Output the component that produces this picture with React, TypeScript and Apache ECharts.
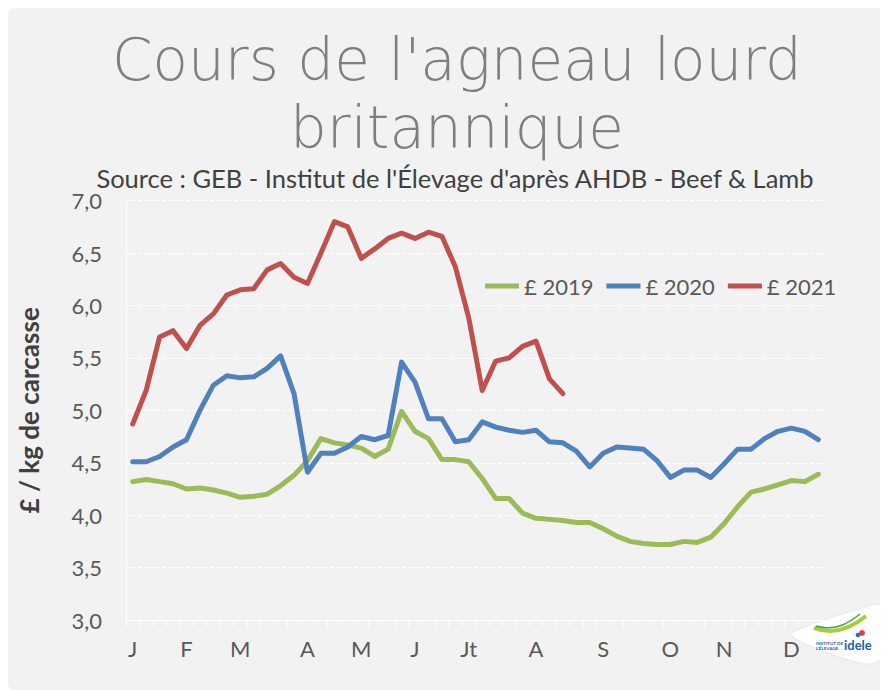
import React, { useEffect, useRef } from "react";
import * as echarts from "echarts";

// ---- data ----
const MONTH_LABELS = ["J", "F", "M", "A", "M", "J", "Jt", "A", "S", "O", "N", "D"];
const MONTH_START_WEEK = [0, 4, 8, 13, 17, 21, 25, 30, 35, 40, 44, 49];
const WEEK_COUNT = 52;
const SERIES_NAMES = ["£ 2019", "£ 2020", "£ 2021"];
const SERIES_COLORS = ["#9bbb59", "#4f81bd", "#c0504d"];

const PRICES_2019 = [
  4.32, 4.34, 4.32, 4.3, 4.25, 4.26, 4.24, 4.21, 4.17, 4.18, 4.2, 4.28,
  4.38, 4.52, 4.73, 4.69, 4.67, 4.64, 4.56, 4.63, 4.99, 4.8, 4.73, 4.53, 4.53, 4.51,
  4.35, 4.16, 4.16, 4.02, 3.97, 3.96, 3.95, 3.93, 3.93, 3.87, 3.8, 3.75, 3.73,
  3.72, 3.72, 3.75, 3.74, 3.79, 3.92, 4.08, 4.22, 4.25, 4.29, 4.33, 4.32, 4.39,
];
const PRICES_2020 = [
  4.51, 4.51, 4.56, 4.65, 4.72, 5.0, 5.24, 5.33, 5.31, 5.32, 5.4, 5.52, 5.16,
  4.41, 4.59, 4.59, 4.65, 4.75, 4.72, 4.76, 5.46, 5.27, 4.92, 4.92, 4.7, 4.72,
  4.89, 4.84, 4.81, 4.79, 4.81, 4.7, 4.69, 4.61, 4.46, 4.59, 4.65, 4.64, 4.63,
  4.52, 4.36, 4.43, 4.43, 4.36, 4.49, 4.63, 4.63, 4.73, 4.8, 4.83, 4.8, 4.72,
];
const PRICES_2021 = [
  4.87, 5.19, 5.7, 5.76, 5.59, 5.81, 5.92, 6.1, 6.15, 6.16, 6.34, 6.4, 6.27,
  6.21, 6.5, 6.8, 6.75, 6.45, 6.54, 6.64, 6.69, 6.64, 6.7, 6.66, 6.37, 5.88,
  5.19, 5.47, 5.5, 5.61, 5.66, 5.3, 5.16,
];
const Y_MIN = 3;
const Y_MAX = 7;
const Y_STEP = 0.5;

const TITLE_LINES = ["Cours de l'agneau lourd", "britannique"];
const SUBTITLE = "Source : GEB - Institut de l'Élevage d'après AHDB - Beef & Lamb";
const Y_NAME = "£ / kg de carcasse";

const FONT = "Lato, 'Open Sans', sans-serif";
const TITLE_FONT = "'DejaVu Sans', Lato, sans-serif";

const LEAF_PATH =
  "M0,28 C10,22 60,6 82,0 C90,-2 94,4 94,10 L94,44 C94,54 80,60 70,58 C50,54 15,40 4,34 C-1,31 -1,29 0,28 Z";

export default function App() {
  const ref = useRef<HTMLDivElement>(null);

  useEffect(() => {
    const el = ref.current;
    if (!el) return;
    echarts.graphic.registerShape("ideleLeaf", echarts.graphic.extendPath(LEAF_PATH, {}));
    const chart = echarts.init(el, null, { renderer: "svg" });

    const weeks = Array.from({ length: WEEK_COUNT }, (_, i) => "S" + (i + 1));
    const monthAt = (i: number) => {
      const k = MONTH_START_WEEK.indexOf(i);
      return k >= 0 ? MONTH_LABELS[k] : "";
    };
    const allData = [PRICES_2019, PRICES_2020, PRICES_2021];

    chart.setOption({
      animation: false,
      backgroundColor: "transparent",
      textStyle: { fontFamily: FONT },
      grid: { left: 110, top: 192.7, width: 707, height: 419.3, containLabel: false },
      legend: {
        left: 472,
        top: 262,
        itemGap: 13,
        itemWidth: 34,
        itemHeight: 5,
        icon: "rect",
        textStyle: { fontSize: 22, color: "#595959", fontFamily: FONT },
        data: SERIES_NAMES,
      },
      xAxis: {
        type: "category",
        data: weeks,
        boundaryGap: true,
        axisLine: { show: true, lineStyle: { color: "#ffffff", width: 1 } },
        axisTick: { show: true, interval: 0, length: 7, lineStyle: { color: "#ffffff" } },
        axisLabel: {
          interval: 0,
          margin: 17,
          fontSize: 22,
          color: "#595959",
          fontFamily: FONT,
          formatter: (_v: string, idx: number) => monthAt(idx),
        },
        splitLine: { show: false },
      },
      yAxis: {
        type: "value",
        min: Y_MIN,
        max: Y_MAX,
        interval: Y_STEP,
        name: Y_NAME,
        nameLocation: "middle",
        nameGap: 84,
        nameRotate: 90,
        nameTextStyle: { fontSize: 26, fontWeight: "bold", color: "#404040", fontFamily: FONT },
        axisLine: { show: true, lineStyle: { color: "#ffffff", width: 1 } },
        axisTick: { show: false },
        axisLabel: {
          margin: 24,
          fontSize: 22,
          color: "#595959",
          fontFamily: FONT,
          formatter: (v: number) => v.toFixed(1).replace(".", ","),
        },
        splitLine: { show: true, lineStyle: { color: "#ffffff", width: 1, type: [4, 2] } },
      },
      series: SERIES_NAMES.map((name, s) => ({
        name,
        type: "line",
        data: allData[s],
        symbol: "none",
        smooth: false,
        color: SERIES_COLORS[s],
        lineStyle: { width: 5, color: SERIES_COLORS[s], cap: "round", join: "round" },
        z: 2 + s,
      })),
      graphic: [
        {
          type: "text",
          x: 449,
          y: 18,
          style: {
            text: TITLE_LINES.join("\n"),
            fontSize: 58,
            lineHeight: 68,
            fontWeight: 200,
            fontFamily: TITLE_FONT,
            fill: "#7f7f7f",
            textAlign: "center",
            textVerticalAlign: "top",
          },
        },
        {
          type: "text",
          x: 447,
          y: 157,
          style: {
            text: SUBTITLE,
            fontSize: 25.5,
            fontFamily: FONT,
            fill: "#404040",
            textAlign: "center",
            textVerticalAlign: "top",
          },
        },
        {
          type: "group",
          children: [
            {
              type: "ideleLeaf",
              x: 785,
              y: 597,
              style: { fill: "#ffffff", shadowBlur: 3, shadowColor: "rgba(0,0,0,0.08)" },
            },
            {
              type: "bezierCurve",
              shape: { x1: 806, y1: 620, cpx1: 828, cpy1: 628, cpx2: 846, cpy2: 618, x2: 858, y2: 608 },
              style: { stroke: "#a6ce39", lineWidth: 4, fill: "none" },
            },
            {
              type: "bezierCurve",
              shape: { x1: 808, y1: 618, cpx1: 828, cpy1: 624, cpx2: 842, cpy2: 614, x2: 852, y2: 606 },
              style: { stroke: "#3aa648", lineWidth: 1.5, fill: "none" },
            },
            { type: "circle", shape: { cx: 854, cy: 625, r: 3 }, style: { fill: "#e63a3a" } },
            { type: "circle", shape: { cx: 850, cy: 627, r: 2.3 }, style: { fill: "#2a6cb5" } },
            {
              type: "text",
              x: 808,
              y: 633,
              style: { text: "INSTITUT DE\nL'ÉLEVAGE", fontSize: 4.5, lineHeight: 5, fill: "#1b5faa", fontWeight: "bold", fontFamily: FONT },
            },
            {
              type: "text",
              x: 836,
              y: 630,
              style: { text: "idele", fontSize: 13, fontWeight: "bold", fill: "#1b5faa", fontFamily: FONT },
            },
          ],
        },
      ],
    });

    return () => chart.dispose();
  }, []);

  return (
    <div
      ref={ref}
      style={{ width: 880, height: 682, background: "#f2f2f2", borderRadius: 6 }}
    />
  );
}
